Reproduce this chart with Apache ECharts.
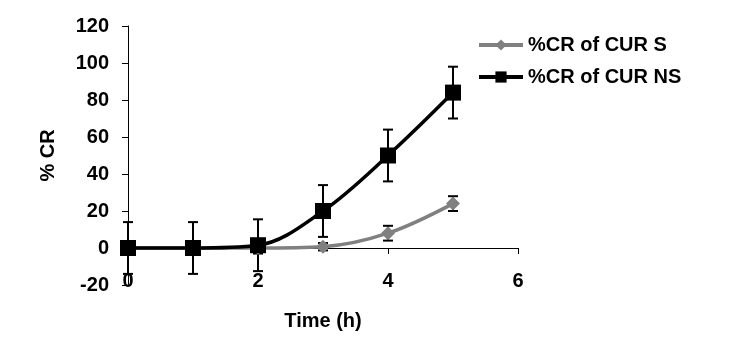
<!DOCTYPE html>
<html>
<head>
<meta charset="utf-8">
<script src="https://cdn.jsdelivr.net/npm/echarts@6/dist/echarts.min.js"></script>
<style>html,body{margin:0;padding:0;background:#fff}#c{width:737px;height:354px}</style>
</head>
<body>
<div id="c"></div>
<script>
const timeH = [0, 1, 2, 3, 4, 5];
const crS = [0, 0, 0, 0.7, 8, 24];
const errS = [0, 0, 3, 2, 4, 4];
const crNS = [0, 0, 1.5, 20, 50, 84];
const errNS = [14, 14, 14, 14, 14, 14];
const xTicks = [0, 2, 4, 6];
const yTicks = [-20, 0, 20, 40, 60, 80, 100, 120];
const seriesNames = ['%CR of CUR S', '%CR of CUR NS'];

const FONT = 'Liberation Sans, Arial, sans-serif';
const chart = echarts.init(document.getElementById('c'), null, {renderer: 'canvas'});

function pairs(xs, ys) { return xs.map((x, i) => [x, ys[i]]); }
function errData(xs, ys, es) { return xs.map((x, i) => [x, ys[i], es[i]]); }

function errRender(params, api) {
  const x = api.value(0), y = api.value(1), e = api.value(2);
  if (!e) return null;
  const top = api.coord([x, y + e]);
  const bot = api.coord([x, y - e]);
  const w = 5;
  const st = {stroke: '#000', lineWidth: 2};
  return {
    type: 'group',
    children: [
      {type: 'line', shape: {x1: top[0], y1: top[1], x2: bot[0], y2: bot[1]}, style: st},
      {type: 'line', shape: {x1: top[0] - w, y1: top[1], x2: top[0] + w, y2: top[1]}, style: st},
      {type: 'line', shape: {x1: bot[0] - w, y1: bot[1], x2: bot[0] + w, y2: bot[1]}, style: st}
    ]
  };
}

chart.setOption({
  animation: false,
  backgroundColor: '#fff',
  grid: {left: 128, right: 219, top: 26, bottom: 69, containLabel: false, outerBoundsMode: 'none'},
  legend: {
    orient: 'vertical', left: 472, top: 30, itemGap: 12,
    itemWidth: 44, itemHeight: 14,
    lineStyle: {width: 4},
    textStyle: {fontFamily: FONT, fontWeight: 'bold', fontSize: 20, color: '#000'},
    data: seriesNames
  },
  xAxis: {
    type: 'value', min: xTicks[0], max: xTicks[xTicks.length - 1], interval: 2,
    name: 'Time (h)', nameLocation: 'middle', nameGap: 26,
    nameTextStyle: {fontFamily: FONT, fontWeight: 'bold', fontSize: 20, color: '#000'},
    axisLine: {onZero: true, lineStyle: {color: '#000', width: 1}},
    axisTick: {show: true, length: 6, inside: false, lineStyle: {color: '#000'}},
    axisLabel: {margin: -14, fontFamily: FONT, fontWeight: 'bold', fontSize: 20, color: '#000'},
    splitLine: {show: false}
  },
  yAxis: {
    type: 'value', min: yTicks[0], max: yTicks[yTicks.length - 1], interval: 20,
    name: '% CR', nameLocation: 'middle', nameGap: 70, nameRotate: 90,
    nameTextStyle: {fontFamily: FONT, fontWeight: 'bold', fontSize: 20, color: '#000'},
    axisLine: {show: true, onZero: false, lineStyle: {color: '#000', width: 1}},
    axisTick: {show: true, length: 6, lineStyle: {color: '#000'}},
    axisLabel: {margin: 19, fontFamily: FONT, fontWeight: 'bold', fontSize: 20, color: '#000'},
    splitLine: {show: false}
  },
  series: [
    {
      type: 'custom', name: 'errS', renderItem: errRender, z: 1,
      data: errData(timeH, crS, errS), silent: true
    },
    {
      type: 'custom', name: 'errNS', renderItem: errRender, z: 1,
      data: errData(timeH, crNS, errNS), silent: true
    },
    {
      type: 'line', name: seriesNames[0], data: pairs(timeH, crS), smooth: 0.35, z: 3,
      symbol: 'diamond', symbolSize: 14,
      lineStyle: {color: '#808080', width: 3.5},
      itemStyle: {color: '#808080', borderWidth: 0}
    },
    {
      type: 'line', name: seriesNames[1], data: pairs(timeH, crNS), smooth: 0.35, z: 4,
      symbol: 'rect', symbolSize: 16,
      lineStyle: {color: '#000', width: 3.5},
      itemStyle: {color: '#000', borderWidth: 0}
    }
  ]
});
</script>
</body>
</html>
